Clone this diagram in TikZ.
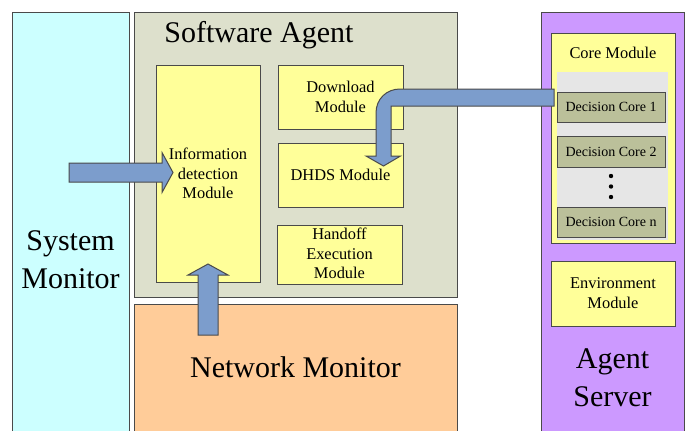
\documentclass[tikz,border=0pt]{standalone}
\usepackage{fontspec}
\setmainfont{Liberation Serif}
\usetikzlibrary{fit,calc}

\definecolor{sysblue}{HTML}{CCFFFF}
\definecolor{agentgrey}{HTML}{DDE0CC}
\definecolor{netorange}{HTML}{FFCC99}
\definecolor{serverpurple}{HTML}{CC99FF}
\definecolor{modyellow}{HTML}{FFFF99}
\definecolor{coregrey}{HTML}{E6E6E6}
\definecolor{decolive}{HTML}{BBC09A}
\definecolor{arrowblue}{HTML}{7C9DCC}
\definecolor{linegrey}{HTML}{4A4A4A}

\tikzset{every picture/.style={line width=0.75pt}}
\tikzset{
  panel/.style={draw=linegrey, inner sep=0pt},
  modbox/.style={draw=linegrey, fill=modyellow, inner sep=0pt},
  decbox/.style={draw=linegrey, fill=decolive, inner sep=0pt},
  modtext/.style={font=\fontsize{12.3}{14.8}\selectfont, align=center, inner sep=0.75pt},
  dectext/.style={font=\fontsize{10.5}{12}\selectfont, inner sep=0.75pt},
  bigtext/.style={font=\fontsize{22.5}{28.5}\selectfont, align=center, inner sep=0.75pt},
  blockarrow/.style={draw=linegrey, fill=arrowblue, line join=miter}
}

\begin{document}
\begin{tikzpicture}[x=0.75pt,y=0.75pt,yscale=-1,xscale=1]
    \clip (0,0) rectangle (686,430);

    % Panels
    \node[panel, fill=sysblue, fit={(12,12) (129,440)}] (sysmon) {};
    \node[panel, fill=agentgrey, fit={(134,12) (457,297)}] (agent) {};
    \node[panel, fill=netorange, fit={(134,304) (457,440)}] (netmon) {};
    \node[panel, fill=serverpurple, fit={(541,12) (684,440)}] (server) {};

    % Software agent modules
    \node[modbox, fit={(156,65) (260,282)}] (info) {};
    \node[modbox, fit={(278,65) (403,129)}] (download) {};
    \node[modbox, fit={(278,143) (403,207)}] (dhds) {};
    \node[modbox, fit={(277,225) (402,284)}] (handoff) {};

    % Agent server modules
    \node[modbox, fit={(551,33) (675,243)}] (core) {};
    \node[fill=coregrey, inner sep=0pt, fit={(557,72) (668,240)}] (corebg) {};
    \node[decbox, fit={(557,92) (665,122)}] (dec1) {};
    \node[decbox, fit={(557,136) (665,167)}] (dec2) {};
    \node[decbox, fit={(557,207) (665,237)}] (decn) {};
    \foreach \y in {176,186.5,197}
      \fill (611,\y) circle (2.2);
    \node[modbox, fit={(551,261) (675,326)}] (env) {};

    % Text Node
    \node[modtext] (infotext) at (info.center) {Information\\detection\\Module};
    \node[modtext] (downloadtext) at (download.center) {Download\\Module};
    \node[modtext] (dhdstext) at (dhds.center) {DHDS Module};
    \node[modtext] (handofftext) at ($(handoff.center)+(0,-1)$) {Handoff\\Execution\\Module};
    \node[modtext] (coretitle) at (613,53) {Core Module};
    \node[dectext] (dec1text) at (dec1.center) {Decision Core 1};
    \node[dectext] (dec2text) at (dec2.center) {Decision Core 2};
    \node[dectext] (decntext) at (decn.center) {Decision Core n};
    \node[modtext] (envtext) at (env.center) {Environment\\Module};
    \node[bigtext] (agenttitle) at (259,35) {Software Agent};
    \node[bigtext] (systitle) at (70.5,260) {System\\Monitor};
    \node[bigtext] (nettitle) at (295.5,367) {Network Monitor};
    \node[bigtext] (servertitle) at (612.5,378) {Agent\\Server};

    % Block arrows
    \coordinate (sysout) at (69,172.5);
    \coordinate (infoin) at (173,172.5);
    \draw[blockarrow] ($(sysout)+(0,-9.5)$) -- ($(infoin)+(-11,-9.5)$) -- ++(0,-10.5)
      -- (infoin) -- ($(infoin)+(-11,20)$) -- ++(0,-10.5) -- ($(sysout)+(0,9.5)$) -- cycle;

    \coordinate (netout) at (208,335);
    \coordinate (infobot) at (208,264);
    \draw[blockarrow] ($(netout)+(-10,0)$) -- ($(infobot)+(-10,11)$) -- ++(-10,0)
      -- (infobot) -- ($(infobot)+(20,11)$) -- ++(-10,0) -- ($(netout)+(10,0)$) -- cycle;

    \coordinate (coreout) at (554,97.5);
    \coordinate (dhdsin) at (383.5,166);
    \coordinate (bend) at (dhdsin |- coreout);
    \draw[blockarrow] ($(coreout)+(0,-8.5)$) -- ($(bend)+(16.5,-8.5)$)
      .. controls ($(bend)+(3,-8.5)$) and ($(bend)+(-7.5,1.5)$) .. ($(bend)+(-7.5,15.5)$)
      -- ($(dhdsin)+(-7.5,-10)$) -- ++(-10,0) -- (dhdsin) -- ($(dhdsin)+(17,-10)$)
      -- ++(-9.5,0) -- ($(bend)+(7.5,8.5)$) -- ($(coreout)+(0,8.5)$) -- cycle;

\end{tikzpicture}
\end{document}
